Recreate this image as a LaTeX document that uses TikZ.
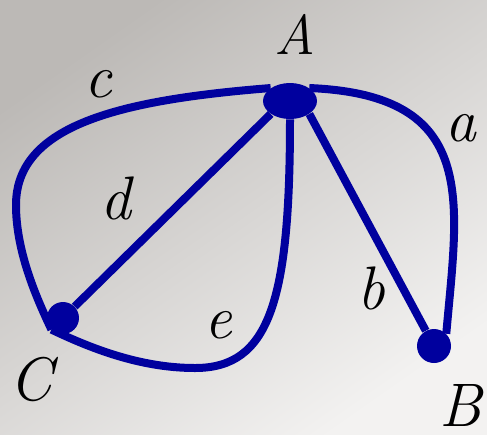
\documentclass[tikz,border=0pt]{standalone}
\usepackage{fontspec}
\usepackage{tikz}
\usetikzlibrary{shapes.geometric}
\definecolor{edgeblue}{HTML}{00009E}
\definecolor{bgdark}{HTML}{BCB9B6}
\definecolor{bglight}{HTML}{F3F2F1}
\tikzset{
  vertex/.style={circle,fill=edgeblue,inner sep=0pt,minimum size=0.64cm},
  hub/.style={ellipse,fill=edgeblue,inner sep=0pt,minimum width=1.08cm,minimum height=0.72cm},
  edgeline/.style={line width=0.16cm,draw=edgeblue},
  vlabel/.style={inner sep=0pt,font=\itshape\fontsize{35}{40}\selectfont},
  elabel/.style={inner sep=0pt,font=\itshape\fontsize{35}{40}\selectfont}
}

\begin{document}
\begin{tikzpicture}[x=0.02cm,y=-0.02cm]
  \shade[top color=bgdark,bottom color=bglight,shading angle=35] (0,0) rectangle (487,434);
  \useasboundingbox (0,0) rectangle (487,434);

  \node[hub] (A) at (290,101) {};
  \node[vertex,minimum size=0.68cm] (B) at (434,346) {};
  \node[vertex] (C) at (63,318) {};

  \draw[edgeline] (A.north east) .. controls (480,95) and (458,200) .. (B.north east);
  \draw[edgeline] (A.south east) -- (B);
  \draw[edgeline] (A.north west) .. controls (120,100) and (16,125) .. (16,205)
    .. controls (16,250) and (35,295) .. (C.south west);
  \draw[edgeline] (A.south west) -- (C);
  \draw[edgeline] (A.south) .. controls (290,300) and (270,368) .. (195,368)
    .. controls (140,368) and (90,348) .. (C.south west);

  \node[vlabel,font=\itshape\fontsize{32}{36}\selectfont] (lA) at (295,34) {A};
  \node[vlabel] (lB) at (461,405) {B};
  \node[vlabel] (lC) at (31,379) {C};

  \node[elabel] (la) at (461,128) {a};
  \node[elabel] (lb) at (371,288) {b};
  \node[elabel] (lc) at (98,84) {c};
  \node[elabel] (ld) at (116,198) {d};
  \node[elabel] (le) at (218,325) {e};
\end{tikzpicture}
\end{document}
